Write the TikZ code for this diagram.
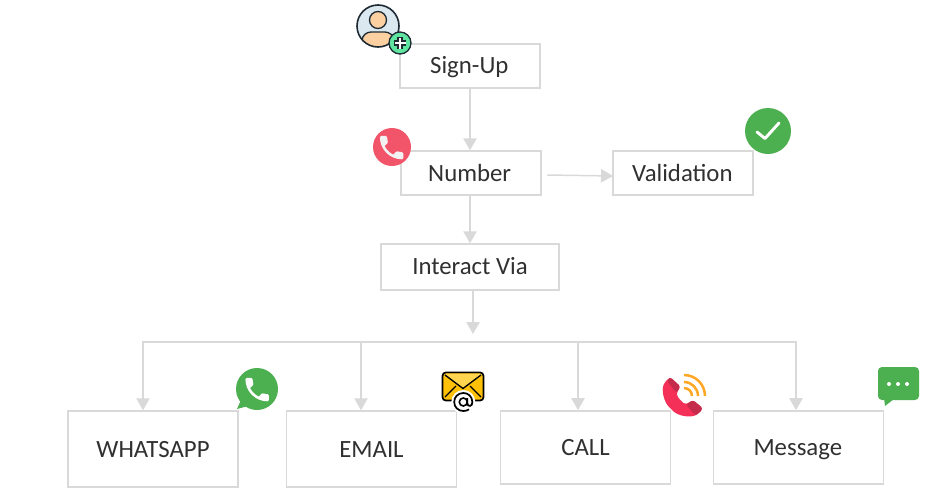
\documentclass[tikz,border=0pt]{standalone}
\usepackage{fontspec}
\setmainfont{Carlito}
\usetikzlibrary{arrows.meta}
\definecolor{linegray}{HTML}{D9D9D9}
\definecolor{txt}{HTML}{303030}
\definecolor{okgreen}{HTML}{4CAF50}
\definecolor{phonered}{HTML}{F2556A}
\definecolor{callred}{HTML}{F43059}
\definecolor{calldark}{HTML}{C52B4A}
\definecolor{wave}{HTML}{FFA726}
\definecolor{envy}{HTML}{FFC107}
\definecolor{envl}{HTML}{FFD54F}
\definecolor{ink}{HTML}{1D2A33}
\definecolor{skin}{HTML}{FDD0A2}
\definecolor{disc}{HTML}{DCE8EF}
\definecolor{mint}{HTML}{5EE6A0}
\newcommand{\handsetpath}{(6.62,10.79) .. controls (8.06,13.62) and (10.38,15.93) .. (13.21,17.38) -- (15.41,15.18) .. controls (15.68,14.91) and (16.08,14.82) .. (16.43,14.94) .. controls (17.55,15.31) and (18.76,15.51) .. (20,15.51) .. controls (20.55,15.51) and (21,15.96) .. (21,16.51) -- (21,20) .. controls (21,20.55) and (20.55,21) .. (20,21) .. controls (10.61,21) and (3,13.39) .. (3,4) .. controls (3,3.45) and (3.45,3) .. (4,3) -- (7.5,3) .. controls (8.05,3) and (8.5,3.45) .. (8.5,4) .. controls (8.5,5.25) and (8.7,6.45) .. (9.07,7.57) .. controls (9.18,7.92) and (9.10,8.31) .. (8.82,8.59) -- cycle}
\tikzset{
  flowbox/.style={draw=linegray,line width=1.1pt,fill=white,inner sep=0pt,text=txt,font=\fontsize{18.6}{20}\selectfont,anchor=center,text height=14.5pt,text depth=2pt},
  conn/.style={draw=linegray,line width=1.1pt,-{Triangle[length=9pt,width=10pt,fill=linegray]}},
  busline/.style={draw=linegray,line width=1.1pt}
}
\begin{document}
\begin{tikzpicture}[x=0.75pt,y=-0.75pt]
\useasboundingbox (0,0) rectangle (950,500);
\fill[white] (0,0) rectangle (950,500);
% boxes
\node[flowbox,text height=13pt,minimum width=105pt,minimum height=33pt] (signup) at (470,66) {\hspace{-1pt}Sign-Up};
\node[flowbox,minimum width=105pt,minimum height=33pt] (number) at (471,173) {\hspace{-2pt}Number};
\node[flowbox,minimum width=105pt,minimum height=33pt] (valid) at (683,173) {\hspace{-1pt}Validation};
\node[flowbox,text height=13pt,minimum width=133.5pt,minimum height=34.5pt] (interact) at (470,267) {Interact Via};
\node[flowbox,minimum width=127.5pt,minimum height=57pt] (wa) at (153,449) {WHATSAPP};
\node[flowbox,minimum width=127.5pt,minimum height=57pt] (em) at (371.5,449) {EMAIL};
\node[flowbox,minimum width=127.5pt,minimum height=55pt] (ca) at (585.5,447.5) {CALL};
\node[flowbox,minimum width=127.5pt,minimum height=55pt] (ms) at (798.5,447.5) {\hspace{-1pt}Message};
% connectors
\coordinate (nout) at (547,175);
\coordinate (vin) at (613,176);
\coordinate (hubtip) at (473,334);
\coordinate (d1) at (143,342);
\coordinate (d2) at (361,342);
\coordinate (d3) at (578,342);
\coordinate (d4) at (796,342);
\draw[conn] (signup.south) -- (number.north -| signup.south);
\draw[conn] (nout) -- (vin);
\draw[conn] (number.south -| interact.north) -- (interact.north);
\draw[conn] (interact.south -| hubtip) -- (hubtip);
\draw[busline,line cap=rect] (d1) -- (d4);
\draw[conn] (d1) -- (d1 |- wa.north);
\draw[conn] (d2) -- (d2 |- em.north);
\draw[conn] (d3) -- (d3 |- ca.north);
\draw[conn] (d4) -- (d4 |- ms.north);
% person icon
\begin{scope}
\clip (378,26) circle (21);
\fill[disc] (378,26) circle (21);
\filldraw[fill=skin,draw=ink,line width=1pt] (362,50) -- (362,41) .. controls (362,35) and (367,32) .. (371,32) -- (385,32) .. controls (389,32) and (394,35) .. (394,41) -- (394,50) -- cycle;
\end{scope}
\draw[ink,line width=1.2pt] (378,26) circle (21);
\filldraw[fill=skin,draw=ink,line width=1pt] (378,20) circle (8.5);
\filldraw[fill=mint,draw=ink,line width=1pt] (400,43) circle (11);
\draw[ink,line width=4.4pt] (394,43) -- (406,43) (400,37) -- (400,49);
\draw[white,line width=2pt] (394.5,43) -- (405.5,43) (400,37.5) -- (400,48.5);
% red phone
\fill[phonered] (392,147) circle (19);
\begin{scope}[shift={(376,132)},scale=1.3]
\fill[white!95!black] \handsetpath;
\end{scope}
% check
\fill[okgreen] (768,131) circle (23);
\draw[white,line width=2.2pt,line cap=round,line join=round] (757,132) -- (765,138.5) -- (779,123);
% whatsapp
\fill[okgreen] (257,389) circle (21);
\fill[okgreen] (241,400) -- (237,409) -- (248,406) -- cycle;
\begin{scope}[shift={(241.5,374)},scale=1.3]
\fill[white] \handsetpath;
\end{scope}
% envelope
\filldraw[fill=envy,draw=black,line width=1.3pt,rounded corners=2.5pt] (442.5,372.5) rectangle (483.5,400.5);
\fill[envl,rounded corners=2pt] (443.5,373.5) -- (482.5,373.5) -- (463,388) -- cycle;
\draw[black,line width=1pt] (445,375) -- (463,388.5) -- (481,375) (445,397) -- (456,386) (481,397) -- (470,386);
\fill[white] (463.3,402) circle (12);
\draw[black,line width=1.2pt] (463.3,402) circle (4);
\draw[black,line width=1.3pt] (467.3,398) -- (467.3,403) .. controls (467.3,407.5) and (472.8,406.5) .. (472.4,402) .. controls (472,396) and (468,393) .. (463.3,393) .. controls (458,393) and (454.2,397) .. (454.2,402) .. controls (454.2,407) and (458,411) .. (463.3,411) .. controls (465.5,411) and (467.5,410.4) .. (469,409.4);
% call icon
\fill[callred,rounded corners=2pt] (670,377) -- (680.5,386.5) -- (676.5,393) .. controls (678,398) and (682,402) .. (686,404.5) -- (693,400) -- (703,408.5) -- (698,414) .. controls (690,418) and (678,416) .. (671,409) .. controls (664,402) and (661,390) .. (665,382) -- cycle;
\fill[calldark,rounded corners=2pt] (686,404.5) -- (693,400) -- (703,408.5) -- (698,414) -- (695,415) -- cycle;
\fill[calldark,rounded corners=2pt] (670,377) -- (680.5,386.5) -- (676.5,393) -- (667,381) -- cycle;
\draw[wave,line width=1.9pt] (684,388) arc[start angle=-90,end angle=0,radius=8];
\draw[wave,line width=1.9pt] (684,382) arc[start angle=-90,end angle=0,radius=14];
\draw[wave,line width=1.9pt] (684,375) arc[start angle=-90,end angle=0,radius=21];
% message icon
\fill[okgreen,rounded corners=3pt] (878,367) rectangle (919,400);
\fill[okgreen] (884,398) -- (885,406) -- (894,399) -- cycle;
\fill[white] (889,384) circle (2) (898,384) circle (2) (907,384) circle (2);
\end{tikzpicture}
\end{document}
